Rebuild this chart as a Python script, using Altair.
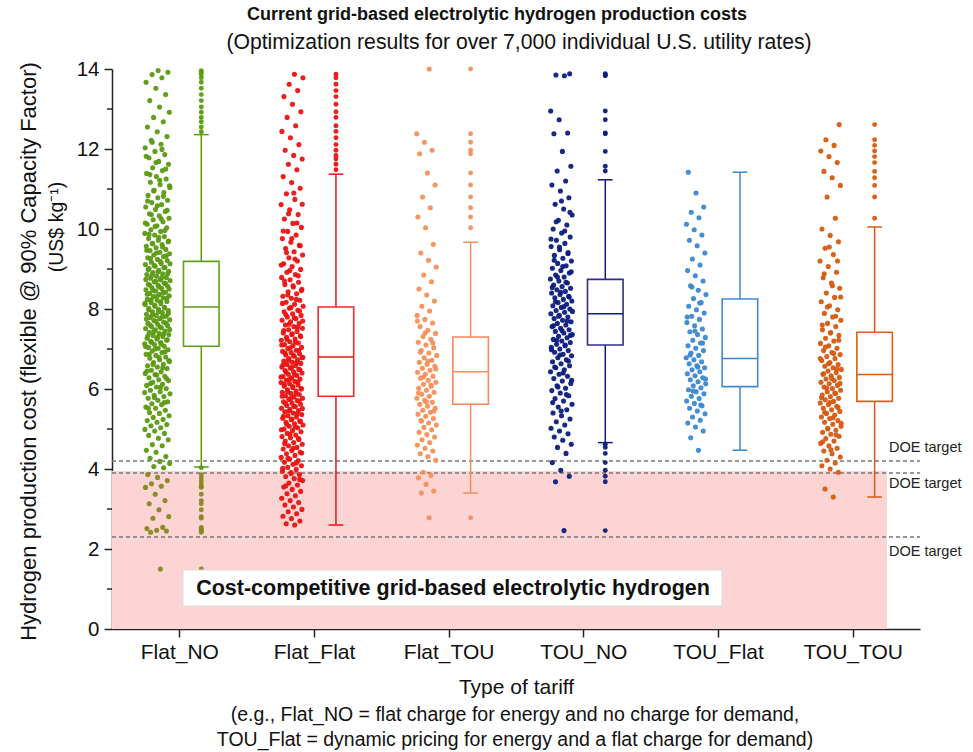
import json
import altair as alt
import pandas as pd

categories = ["Flat_NO", "Flat_Flat", "Flat_TOU", "TOU_NO", "TOU_Flat", "TOU_TOU"]
point_colors = ["#5b9a12", "#ec1212", "#f4905a", "#0b1c7e", "#3b88d2", "#d65a10"]
box_colors = ["#5fa01a", "#ee2a2a", "#f4885a", "#2e2e8e", "#3f8ad6", "#d9601c"]
low_green = "#85891f"   # green dots seen through the pink band

flat_no = [1.50, 2.42, 2.45, 2.47, 2.51, 2.54, 2.77, 2.81, 2.98, 3.13, 3.21, 3.37, 3.54, 3.57, 3.63, 3.71, 3.79, 3.86,
           4.03, 4.06, 4.14, 4.19, 4.27, 4.31, 4.42, 4.47, 4.58, 4.61, 4.73, 4.77, 4.84, 4.89, 4.95, 4.99,
           5.03, 5.08, 5.11, 5.17, 5.21, 5.24, 5.29, 5.33, 5.39, 5.41, 5.47, 5.52, 5.55, 5.61, 5.63, 5.68, 5.72, 5.77,
           5.81, 5.84, 5.88, 5.93, 5.97, 6.01, 6.05, 6.09, 6.12, 6.17, 6.21, 6.23, 6.28, 6.32, 6.36, 6.39, 6.43, 6.47,
           6.51, 6.55, 6.58, 6.62, 6.66, 6.69, 6.73, 6.77, 6.80, 6.84, 6.87, 6.91, 6.95, 6.98,
           7.02, 7.04, 7.07, 7.11, 7.13, 7.16, 7.19, 7.22, 7.25, 7.27, 7.31, 7.34, 7.36, 7.39, 7.42, 7.45, 7.48, 7.51,
           7.53, 7.56, 7.59, 7.62, 7.64, 7.67, 7.71, 7.73, 7.76, 7.79, 7.82, 7.84, 7.87, 7.91, 7.93, 7.96, 7.99,
           8.02, 8.04, 8.07, 8.11, 8.13, 8.16, 8.19, 8.22, 8.24, 8.28, 8.31, 8.33, 8.36, 8.39, 8.42, 8.45, 8.48, 8.51,
           8.53, 8.57, 8.59, 8.62, 8.65, 8.68, 8.71, 8.73, 8.77, 8.79, 8.82, 8.86, 8.88, 8.91, 8.94, 8.97,
           9.01, 9.04, 9.07, 9.11, 9.14, 9.17, 9.21, 9.24, 9.28, 9.31, 9.35, 9.38, 9.42, 9.46, 9.49, 9.53, 9.57, 9.61,
           9.64, 9.68, 9.72, 9.76, 9.81, 9.85, 9.89, 9.94, 9.98,
           10.03, 10.08, 10.12, 10.18, 10.23, 10.27, 10.33, 10.38, 10.44, 10.49, 10.55, 10.61, 10.66, 10.72, 10.78,
           10.84, 10.91, 10.97, 11.04, 11.11, 11.17, 11.25, 11.31, 11.39, 11.46, 11.53, 11.62, 11.69, 11.78, 11.86,
           11.94, 12.03, 12.12, 12.22, 12.31, 12.43, 12.55, 12.68, 12.79, 12.92, 13.05, 13.21, 13.36, 13.52, 13.67,
           13.78, 13.86, 13.92, 13.96,
           5.52, 5.66, 5.79, 5.91, 6.04, 6.14, 6.26, 6.35, 6.45, 6.53, 6.61, 6.71, 6.79, 6.86, 6.93, 7.00, 7.06,
           7.12, 7.17, 7.23, 7.29, 7.33, 7.38, 7.44, 7.49, 7.55, 7.60, 7.65, 7.69, 7.75, 7.80, 7.85, 7.89, 7.94,
           7.98, 8.03, 8.09, 8.14, 8.18, 8.23, 8.27, 8.32, 8.37, 8.41, 8.46, 8.50, 8.55, 8.60, 8.64, 8.69, 8.74,
           8.78, 8.84, 8.89, 8.93, 8.99, 9.03, 9.09, 9.13, 9.19, 9.26, 9.33, 9.40, 9.47, 9.55, 9.63, 9.70, 9.79,
           9.87, 9.96, 10.06, 10.15, 10.26, 10.36, 10.47, 10.58, 10.70, 10.82, 10.95, 11.08, 11.22, 11.36, 11.50,
           11.66, 11.82, 11.99, 12.17]

flat_flat = [2.60, 2.63, 2.70, 2.76, 2.82, 2.88, 2.93, 2.99, 3.05, 3.10, 3.16, 3.21, 3.27, 3.33, 3.38, 3.44, 3.49,
             3.55, 3.60, 3.65, 3.71, 3.76, 3.81, 3.86, 3.91, 3.95, 3.99,
             4.04, 4.08, 4.12, 4.17, 4.21, 4.25, 4.29, 4.34, 4.38, 4.42, 4.46, 4.50, 4.54, 4.58, 4.62, 4.66, 4.70,
             4.74, 4.78, 4.81, 4.85, 4.89, 4.93, 4.96,
             5.00, 5.03, 5.07, 5.10, 5.13, 5.17, 5.20, 5.23, 5.27, 5.30, 5.33, 5.36, 5.40, 5.43, 5.46, 5.49, 5.52,
             5.56, 5.59, 5.62, 5.65, 5.68, 5.71, 5.74, 5.77, 5.80, 5.83, 5.86, 5.89, 5.92, 5.95, 5.98,
             6.01, 6.04, 6.07, 6.10, 6.13, 6.16, 6.19, 6.22, 6.25, 6.28, 6.31, 6.34, 6.37, 6.40, 6.43, 6.46, 6.49,
             6.52, 6.55, 6.58, 6.61, 6.64, 6.67, 6.70, 6.73, 6.76, 6.79, 6.82, 6.85, 6.88, 6.91, 6.94, 6.97,
             7.01, 7.04, 7.08, 7.11, 7.15, 7.18, 7.22, 7.25, 7.29, 7.33, 7.36, 7.40, 7.44, 7.48, 7.52, 7.56, 7.60,
             7.64, 7.68, 7.72, 7.76, 7.80, 7.84, 7.88, 7.93, 7.97,
             8.02, 8.07, 8.12, 8.17, 8.22, 8.27, 8.32, 8.38, 8.43, 8.49, 8.55, 8.61, 8.67, 8.73, 8.79, 8.86, 8.92, 8.99,
             9.06, 9.13, 9.20, 9.28, 9.35, 9.43, 9.51, 9.59, 9.67, 9.76, 9.85, 9.94,
             10.04, 10.14, 10.25, 10.36, 10.48, 10.61, 10.74, 10.88, 11.02, 11.16, 11.31,
             11.48, 11.62, 11.75, 11.84, 11.97, 12.11, 12.28, 12.44, 12.58, 12.79, 12.93, 13.12, 13.31, 13.46, 13.62,
             13.78, 13.87,
             3.58, 3.74, 3.89, 4.02, 4.15, 4.27, 4.40, 4.52, 4.64, 4.76, 4.87, 4.98, 5.05, 5.12, 5.19, 5.25, 5.32,
             5.38, 5.45, 5.51, 5.57, 5.64, 5.70, 5.76, 5.82, 5.88, 5.94, 6.00, 6.06, 6.12, 6.18, 6.24, 6.30, 6.36,
             6.42, 6.48, 6.54, 6.60, 6.66, 6.72, 6.78, 6.84, 6.90, 6.96, 7.03, 7.10, 7.17, 7.24, 7.31, 7.38, 7.46,
             7.54, 7.62, 7.70, 7.78, 7.86, 7.95, 8.04, 8.14, 8.24, 8.35, 8.46, 8.58, 8.70, 8.83, 8.96, 9.10, 9.25,
             9.41, 9.58, 9.76, 9.95, 10.15, 10.38, 10.62, 10.90]

flat_tou = [2.78, 3.40, 3.45, 3.62, 3.78, 3.84, 3.92,
            4.22, 4.31, 4.38, 4.45, 4.52, 4.60, 4.66, 4.73, 4.80, 4.86, 4.92, 4.98,
            5.04, 5.10, 5.15, 5.21, 5.26, 5.32, 5.37, 5.42, 5.47, 5.52, 5.57, 5.62, 5.67, 5.72, 5.77, 5.82, 5.87,
            5.92, 5.97, 6.02, 6.07, 6.12, 6.17, 6.22, 6.27, 6.32, 6.37, 6.42, 6.47, 6.52, 6.57, 6.62, 6.67, 6.72,
            6.78, 6.84, 6.90, 6.96, 7.03, 7.10, 7.17, 7.24, 7.31, 7.39, 7.47, 7.56, 7.65, 7.74, 7.84, 7.95,
            8.07, 8.20, 8.35, 8.50, 8.68, 8.85, 9.05, 9.22, 9.40, 9.62,
            10.03, 10.30, 10.53, 10.80, 11.10, 11.40, 11.88, 11.97, 12.17, 12.38, 14.00,
            5.20, 5.45, 5.68, 5.90, 6.10, 6.30, 6.50, 6.70, 6.92, 7.15, 7.40, 7.70]

tou_no = [2.46, 3.68, 3.82, 3.97, 4.16, 4.39, 4.54, 4.62,
          4.72, 4.80, 4.88, 4.95, 5.02, 5.10, 5.18, 5.25, 5.33, 5.40, 5.48, 5.55, 5.62, 5.70, 5.76, 5.83, 5.90, 5.96,
          6.02, 6.08, 6.14, 6.20, 6.26, 6.32, 6.37, 6.43, 6.48, 6.53, 6.58, 6.63, 6.68, 6.73, 6.78, 6.83, 6.87,
          6.92, 6.96, 7.00, 7.04, 7.08, 7.12, 7.16, 7.20, 7.24, 7.28, 7.32, 7.36, 7.40, 7.44, 7.48, 7.52, 7.56,
          7.60, 7.64, 7.68, 7.72, 7.76, 7.80, 7.84, 7.88, 7.92, 7.96, 8.00, 8.04, 8.08, 8.12, 8.16, 8.20, 8.24,
          8.28, 8.32, 8.36, 8.40, 8.44, 8.48, 8.52, 8.56, 8.60, 8.65, 8.70, 8.75, 8.80, 8.85, 8.90, 8.96,
          9.02, 9.08, 9.14, 9.20, 9.27, 9.34, 9.41, 9.48, 9.56, 9.64, 9.72, 9.80, 9.90, 10.00, 10.10, 10.22,
          10.35, 10.50, 10.62, 10.78, 10.95, 11.10, 11.20,
          11.45, 11.57, 11.94, 12.38, 12.40, 12.73, 12.95, 13.83, 13.85, 13.88,
          5.45, 5.66, 5.86, 6.05, 6.22, 6.40, 6.55, 6.70, 6.85, 6.98, 7.10, 7.22, 7.34, 7.46, 7.58, 7.70, 7.82,
          7.94, 8.06, 8.18, 8.30, 8.42, 8.54, 8.67, 8.80, 8.93, 9.06, 9.22, 9.38, 9.55, 9.75, 9.95, 10.18, 10.42,
          10.70]

tou_flat = [4.47, 4.78, 4.95, 5.05, 5.15, 5.22, 5.30, 5.38, 5.45, 5.52, 5.58, 5.64, 5.70, 5.76, 5.82, 5.88, 5.93,
            5.98, 6.03, 6.08, 6.13, 6.18, 6.23, 6.28, 6.33, 6.38, 6.43, 6.48, 6.53, 6.58, 6.63, 6.68, 6.73, 6.78,
            6.84, 6.90, 6.96, 7.02, 7.08, 7.15, 7.22, 7.29, 7.36, 7.43, 7.50, 7.58, 7.66, 7.74, 7.82, 7.90, 7.98,
            8.07, 8.16, 8.26, 8.36, 8.47, 8.58, 8.70, 8.83, 8.96, 9.10, 9.25, 9.40, 9.58, 9.72, 9.85, 9.98, 10.12,
            10.28, 10.42, 10.55, 10.90, 11.42,
            5.60, 5.95, 6.25, 6.55, 6.85, 7.15, 7.45, 7.80, 8.15, 8.55]

tou_tou = [3.30, 3.50, 3.92, 4.00, 4.08, 4.15, 4.22, 4.30, 4.38, 4.45, 4.52, 4.58, 4.64, 4.70, 4.76, 4.82, 4.87,
           4.92, 4.97, 5.02, 5.07, 5.12, 5.17, 5.21, 5.26, 5.30, 5.35, 5.39, 5.44, 5.48, 5.52, 5.57, 5.61, 5.65,
           5.69, 5.73, 5.77, 5.81, 5.85, 5.89, 5.93, 5.97, 6.01, 6.05, 6.09, 6.13, 6.17, 6.21, 6.25, 6.29, 6.33,
           6.37, 6.41, 6.45, 6.49, 6.53, 6.57, 6.61, 6.66, 6.71, 6.76, 6.81, 6.86, 6.91, 6.96,
           7.02, 7.08, 7.14, 7.20, 7.27, 7.34, 7.41, 7.48, 7.56, 7.64, 7.72, 7.80, 7.89, 7.98, 8.08, 8.18, 8.29,
           8.40, 8.52, 8.65, 8.78, 8.92, 9.06, 9.20, 9.36, 9.52, 9.68, 9.84, 10.00,
           10.27, 10.80, 11.09, 11.28, 11.44, 11.66, 11.81, 11.95, 12.09, 12.23, 12.61,
           4.48, 4.68, 4.85, 5.00, 5.14, 5.28, 5.41, 5.54, 5.66, 5.78, 5.90, 6.02, 6.14, 6.26, 6.38, 6.50, 6.63,
           6.76, 6.89, 7.05, 7.22, 7.40, 7.60, 7.82, 8.05, 8.30, 8.58, 8.88, 9.20, 9.55]

series = [flat_no, flat_flat, flat_tou, tou_no, tou_flat, tou_tou]

whisker_low = [4.05, 2.60, 3.40, 4.66, 4.47, 3.30]
q1 = [7.07, 5.82, 5.62, 7.10, 6.06, 5.69]
median = [8.05, 6.80, 6.43, 7.88, 6.76, 6.36]
q3 = [9.19, 8.05, 7.30, 8.74, 8.25, 7.42]
whisker_high = [12.36, 11.37, 9.67, 11.23, 11.42, 10.05]

doe_targets = [4.2, 3.9, 2.3]
band_top = 3.95
y_major = [0, 2, 4, 6, 8, 10, 12, 14]
y_minor = [1, 3, 5, 7, 9, 11, 13]

# ---------------------------------------------------------------- layout / style
W, H = 808, 560
OFF = 0.163      # strip / box offset from band centre (x units)
JITTER = {"Flat_NO": 0.19, "Flat_Flat": 0.165, "Flat_TOU": 0.15, "TOU_NO": 0.165, "TOU_Flat": 0.15, "TOU_TOU": 0.16}
BOXW = 0.132     # half box width
CAPW = 0.055     # half cap width
FONT = "Liberation Sans"

rows = []
for i, (c, vals) in enumerate(zip(categories, series)):
    for v in vals:
        rows.append({"cat": c, "ci": i, "val": v, "wlo": whisker_low[i], "whi": whisker_high[i]})
points = pd.DataFrame(rows)
boxes = pd.DataFrame({"cat": categories, "ci": list(range(len(categories))), "wlo": whisker_low,
                      "q1": q1, "med": median, "q3": q3, "whi": whisker_high})

xscale = alt.Scale(domain=[0, len(categories)], nice=False, zero=False)
yscale = alt.Scale(domain=[0, 14], nice=False, zero=False)
pcolor = alt.Color("ckey:N", scale=alt.Scale(domain=categories + ["low"], range=point_colors + [low_green]),
                   legend=None)
bcolor = alt.Color("cat:N", scale=alt.Scale(domain=categories, range=box_colors), legend=None)
ckey_expr = f"(datum.cat == '{categories[0]}' && datum.val < {band_top}) ? 'low' : datum.cat"
jw_expr = json.dumps(JITTER) + "[datum.cat]"

label_expr = json.dumps(categories) + "[floor(datum.value)]"
xaxis = alt.Axis(values=[i + 0.5 for i in range(len(categories))], labelExpr=label_expr,
                 title="Type of tariff", titleX=404, titleY=58, titleBaseline="middle", titleFontSize=21)
yaxis = alt.Axis(values=y_major,
                 title="Hydrogen production cost (flexible @ 90% Capacity Factor)",
                 titleX=-84, titleY=282, titleAngle=270, titleAlign="center", titleBaseline="middle",
                 titleFontSize=22, labelFontSize=20.5, labelPadding=5)

one = pd.DataFrame({"a": [0]})

band = alt.Chart(one).mark_rect(color="#fcd4d4").encode(
    x=alt.value(0), x2=alt.value(775), y=alt.Y(datum=0, scale=yscale), y2=alt.Y2(datum=band_top))

minor = alt.Chart(pd.DataFrame({"m": y_minor})).mark_rule(color="#222", strokeWidth=1.5).encode(
    y=alt.Y("m:Q", scale=yscale), x=alt.value(-5), x2=alt.value(0))

doe_lines = alt.Chart(pd.DataFrame({"v": doe_targets})).mark_rule(
    color="#777", strokeDash=[4, 3], strokeWidth=1.3).encode(
    y=alt.Y("v:Q", scale=yscale), x=alt.value(0), x2=alt.value(808))

doe_text = []
for v, dy in zip(doe_targets, [-13, 11, 15]):
    doe_text.append(alt.Chart(pd.DataFrame({"v": [v]})).mark_text(
        text="DOE target", align="left", baseline="middle", dy=dy, fontSize=14.5, color="#222").encode(
        y=alt.Y("v:Q", scale=yscale), x=alt.value(777)))

strip = alt.Chart(points).transform_window(
    rn="row_number()", groupby=["cat"]
).transform_calculate(
    jw=jw_expr
).transform_calculate(
    xs=f"datum.ci + 0.5 - {OFF} + ((datum.rn * 0.618034) % 1 - 0.5) * datum.jw",
    ckey=ckey_expr
).mark_circle(size=26, opacity=0.95).encode(
    x=alt.X("xs:Q", scale=xscale, axis=xaxis), y=alt.Y("val:Q", scale=yscale, axis=yaxis), color=pcolor)

outliers = alt.Chart(points).transform_filter(
    "datum.val > datum.whi || datum.val < datum.wlo"
).transform_calculate(xb=f"datum.ci + 0.5 + {OFF}", ckey=ckey_expr).mark_circle(size=24, opacity=0.95).encode(
    x=alt.X("xb:Q", scale=xscale), y=alt.Y("val:Q", scale=yscale), color=pcolor)

bx = alt.Chart(boxes).transform_calculate(
    xc=f"datum.ci + 0.5 + {OFF}", xl=f"datum.ci + 0.5 + {OFF} - {BOXW}", xr=f"datum.ci + 0.5 + {OFF} + {BOXW}",
    cl=f"datum.ci + 0.5 + {OFF} - {CAPW}", cr=f"datum.ci + 0.5 + {OFF} + {CAPW}")

whisk_lo = bx.mark_rule(strokeWidth=1.5).encode(
    x=alt.X("xc:Q", scale=xscale), y=alt.Y("wlo:Q", scale=yscale), y2="q1:Q", color=bcolor)
whisk_hi = bx.mark_rule(strokeWidth=1.5).encode(
    x=alt.X("xc:Q", scale=xscale), y=alt.Y("q3:Q", scale=yscale), y2="whi:Q", color=bcolor)
cap_lo = bx.mark_rule(strokeWidth=1.5).encode(
    x=alt.X("cl:Q", scale=xscale), x2="cr:Q", y=alt.Y("wlo:Q", scale=yscale), color=bcolor)
cap_hi = bx.mark_rule(strokeWidth=1.5).encode(
    x=alt.X("cl:Q", scale=xscale), x2="cr:Q", y=alt.Y("whi:Q", scale=yscale), color=bcolor)
box = bx.mark_rect(fill="white", strokeWidth=1.6).encode(
    x=alt.X("xl:Q", scale=xscale), x2="xr:Q",
    y=alt.Y("q1:Q", scale=yscale), y2="q3:Q", stroke=bcolor)
med = bx.mark_rule(strokeWidth=1.5).encode(
    x=alt.X("xl:Q", scale=xscale), x2="xr:Q", y=alt.Y("med:Q", scale=yscale), color=bcolor)

label_box = alt.Chart(one).mark_rect(fill="white", stroke="#dddddd", strokeWidth=1).encode(
    x=alt.value(71), x2=alt.value(610), y=alt.value(501), y2=alt.value(537))
label_text = alt.Chart(one).mark_text(
    text="Cost-competitive grid-based electrolytic hydrogen", fontSize=21.5, fontWeight="bold",
    align="center", baseline="middle", color="#111").encode(x=alt.value(341), y=alt.value(520))

title = alt.Chart(one).mark_text(
    text="Current grid-based electrolytic hydrogen production costs", fontSize=18, fontWeight="bold",
    align="center", baseline="middle", color="#111").encode(x=alt.value(385), y=alt.value(-54))
subtitle = alt.Chart(one).mark_text(
    text="(Optimization results for over 7,000 individual U.S. utility rates)", fontSize=21.2,
    align="center", baseline="middle", color="#111").encode(x=alt.value(407), y=alt.value(-26))
unit = alt.Chart(one).mark_text(
    text="(US$ kg⁻¹)", fontSize=19.5, angle=270, align="center", baseline="middle", color="#111").encode(
    x=alt.value(-55), y=alt.value(158))
note1 = alt.Chart(one).mark_text(
    text="(e.g., Flat_NO = flat charge for energy and no charge for demand,", fontSize=19.5,
    align="center", baseline="middle", color="#111").encode(x=alt.value(403), y=alt.value(646))
note2 = alt.Chart(one).mark_text(
    text="TOU_Flat = dynamic pricing for energy and a flat charge for demand)", fontSize=19.5,
    align="center", baseline="middle", color="#111").encode(x=alt.value(403), y=alt.value(671))

chart = alt.layer(
    band, minor, doe_lines, *doe_text, strip, whisk_lo, whisk_hi, cap_lo, cap_hi, box, med,
    outliers, label_box, label_text, title, subtitle, unit, note1, note2
).properties(
    width=W, height=H,
    autosize=alt.AutoSizeParams(type="none"),
    padding={"left": 112, "top": 69, "right": 53, "bottom": 123},
    background="white",
).configure(font=FONT).configure_view(stroke=None).configure_axis(
    grid=False, titleFontWeight="normal", labelFontSize=21, labelPadding=4, tickSize=8, tickWidth=1.5,
    domainWidth=1.5, domainColor="#222", tickColor="#222", labelColor="#111", titleColor="#111"
)

chart.save("out.html", embed_options={"renderer": "svg", "actions": False})
